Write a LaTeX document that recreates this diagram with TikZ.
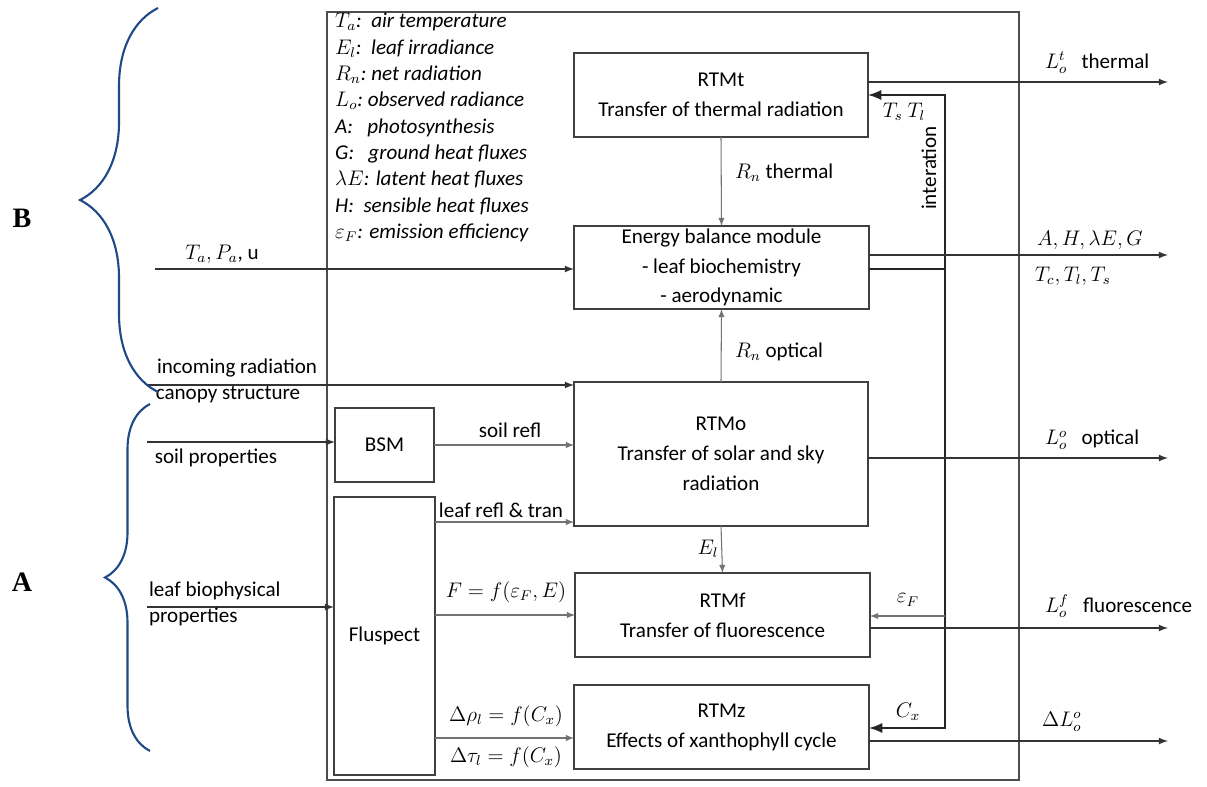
\documentclass[tikz,border=0pt]{standalone}
\usepackage{fontspec}
\setmainfont{Carlito}
\newfontfamily\letterfont{Liberation Serif}
\usetikzlibrary{arrows, positioning, decorations.pathreplacing}

\begin{document}
\begin{tikzpicture}[x=0.02cm, y=-0.02cm, >=latex, font=\fontsize{12}{17}\selectfont]
\tikzstyle{block}=[rectangle, draw=black!75, line width=0.9pt, inner sep=0pt, outer sep=0pt, align=center]
\tikzstyle{flow}=[->, draw=black!80, line width=0.8pt]
\tikzstyle{feed}=[->, draw=black!55, line width=0.6pt]
\tikzstyle{loopline}=[draw=black!85, line width=1.6pt]
\tikzstyle{lab}=[inner sep=1pt]
\tikzstyle{grp}=[draw={rgb,255:red,31;green,73;blue,135}, line width=1.2pt, decorate]
\useasboundingbox (0,0) rectangle (1207,787);

% frame and legend
\node[block, draw=black!70, minimum width=13.84cm, minimum height=15.36cm] (frame) at (673,396) {};
\node[anchor=north west, align=left, font=\itshape\fontsize{12}{15}\selectfont] (legend) at (329,7) {%
$T_a$:\ \ air temperature\\
$E_l$:\ \ leaf irradiance\\
$R_n$:\ net radiation\\
$L_o$:\ observed radiance\\
A:\ \ \ photosynthesis\\
G:\ \ \ ground heat fluxes\\
$\lambda E$: latent heat fluxes\\
H:\ \ sensible heat fluxes\\
$\varepsilon_F$: emission efficiency};

% modules
\node[block, minimum width=5.88cm, minimum height=1.68cm] (rtmt) at (721,95) {RTMt\\Transfer of thermal radiation};
\node[block, minimum width=5.9cm, minimum height=1.66cm] (ebm) at (721.5,267.5) {Energy balance module\\- leaf biochemistry\\- aerodynamic};
\node[block, minimum width=5.88cm, minimum height=2.88cm] (rtmo) at (721,454) {RTMo\\Transfer of solar and sky\\radiation};
\node[block, minimum width=1.98cm, minimum height=1.48cm] (bsm) at (384.5,445) {BSM};
\node[block, minimum width=2.02cm, minimum height=5.56cm] (fluspect) at (384.5,636) {Fluspect};
\node[block, minimum width=5.9cm, minimum height=1.68cm] (rtmf) at (722.5,615) {RTMf\\Transfer of fluorescence};
\node[block, minimum width=5.9cm, minimum height=1.68cm] (rtmz) at (721.5,727) {RTMz\\Effects of xanthophyll cycle};

% free ends
\coordinate (inta) at (155,269);
\coordinate (inrad) at (147,385);
\coordinate (insoil) at (147,442);
\coordinate (inleaf) at (147,607);
\coordinate (lr) at (500,522);
\coordinate (dr) at (500,738);
\coordinate (ot) at (1168,82);
\coordinate (oe) at (1168,255);
\coordinate (oo) at (1168,458);
\coordinate (of) at (1168,628);
\coordinate (oz) at (1168,741);
\coordinate (ij) at (945,269);
\coordinate (it) at (945,95);
\coordinate (ie) at (945,616);
\coordinate (ib) at (945,728);

% inputs
\draw[flow] (inta) -- (inta -| ebm.west);
\draw[flow] (inrad) -- (inrad -| rtmo.west);
\draw[flow] (insoil) -- (insoil -| bsm.west);
\draw[flow] (inleaf) -- (inleaf -| fluspect.west);
\node[lab] (lta) at (222,254) {$T_a, P_a$, u};
\node[lab] (lrad) at (237,368) {incoming radiation};
\node[lab] (lcan) at (228,395) {canopy structure};
\node[lab] (lsoil) at (216,458) {soil properties};
\node[lab, anchor=west] (lleaf) at (147,591) {leaf biophysical};
\node[lab, anchor=west] (lprop) at (147,617) {properties};

% internal flows
\draw[feed] (rtmt.south) -- (ebm.north);
\draw[feed] (rtmo.north) -- (ebm.south);
\draw[feed] (rtmo.south) -- (rtmf.north);
\draw[feed] (bsm.east) -- (bsm.east -| rtmo.west);
\draw[feed] (fluspect.east |- lr) -- (lr -| rtmo.west);
\draw[feed] (fluspect.east |- rtmf.west) -- (rtmf.west);
\draw[feed] (fluspect.east |- dr) -- (dr -| rtmz.west);
\node[lab, anchor=west] (lrnt) at (733,173) {$R_n$ thermal};
\node[lab, anchor=west] (lrno) at (733,352) {$R_n$ optical};
\node[lab] (lel) at (708,549) {$E_l$};
\node[lab] (lsr) at (510,430) {soil refl};
\node[lab] (llr) at (501,510) {leaf refl \& tran};
\node[lab] (lff) at (506,592) {$F = f(\varepsilon_F, E)$};
\node[lab] (ldr) at (506,716) {$\Delta\rho_l = f(C_x)$};
\node[lab] (ldt) at (506,757) {$\Delta\tau_l = f(C_x)$};

% iteration loop
\draw[loopline] (ebm.east |- ij) -- (ij);
\draw[loopline, ->] (ij) -- (it) -- (it -| rtmt.east);
\draw[loopline, ->] (ij) -- (ib) -- (ib -| rtmz.east);
\draw[feed] (ie) -- (ie -| rtmf.east);
\node[lab] (ltt) at (904,112) {$T_s\ T_l$};
\node[lab, rotate=90] (lit) at (929,168) {interation};
\node[lab] (lef) at (908,600) {$\varepsilon_F$};
\node[lab] (lcx) at (908,712) {$C_x$};

% outputs
\draw[flow] (rtmt.east |- ot) -- (ot);
\draw[flow] (ebm.east |- oe) -- (oe);
\draw[flow] (rtmo.east |- oo) -- (oo);
\draw[flow] (rtmf.east |- of) -- (of);
\draw[flow] (rtmz.east |- oz) -- (oz);
\node[lab, anchor=west] (lot) at (1043,63) {$L_o^t$\ \ \ thermal};
\node[lab, anchor=west] (loe) at (1035,240) {$A, H, \lambda E, G$};
\node[lab, anchor=west] (loe2) at (1033,276) {$T_c, T_l, T_s$};
\node[lab, anchor=west] (loo) at (1043,440) {$L_o^o$\ \ \ optical};
\node[lab, anchor=west] (lof) at (1043,606) {$L_o^f$\ \ \ fluorescence};
\node[lab, anchor=west] (loz) at (1040,722) {$\Delta L_o^o$};

% groups
\draw[grp, decoration={brace, amplitude=1.56cm}] (158,392) -- (158,8);
\draw[grp, decoration={brace, amplitude=0.9cm}] (150,751) -- (150,404);
\node[font=\letterfont\bfseries\fontsize{16}{18}\selectfont] (gb) at (22,218) {B};
\node[font=\letterfont\bfseries\fontsize{16}{18}\selectfont] (ga) at (22,582) {A};
\end{tikzpicture}
\end{document}
